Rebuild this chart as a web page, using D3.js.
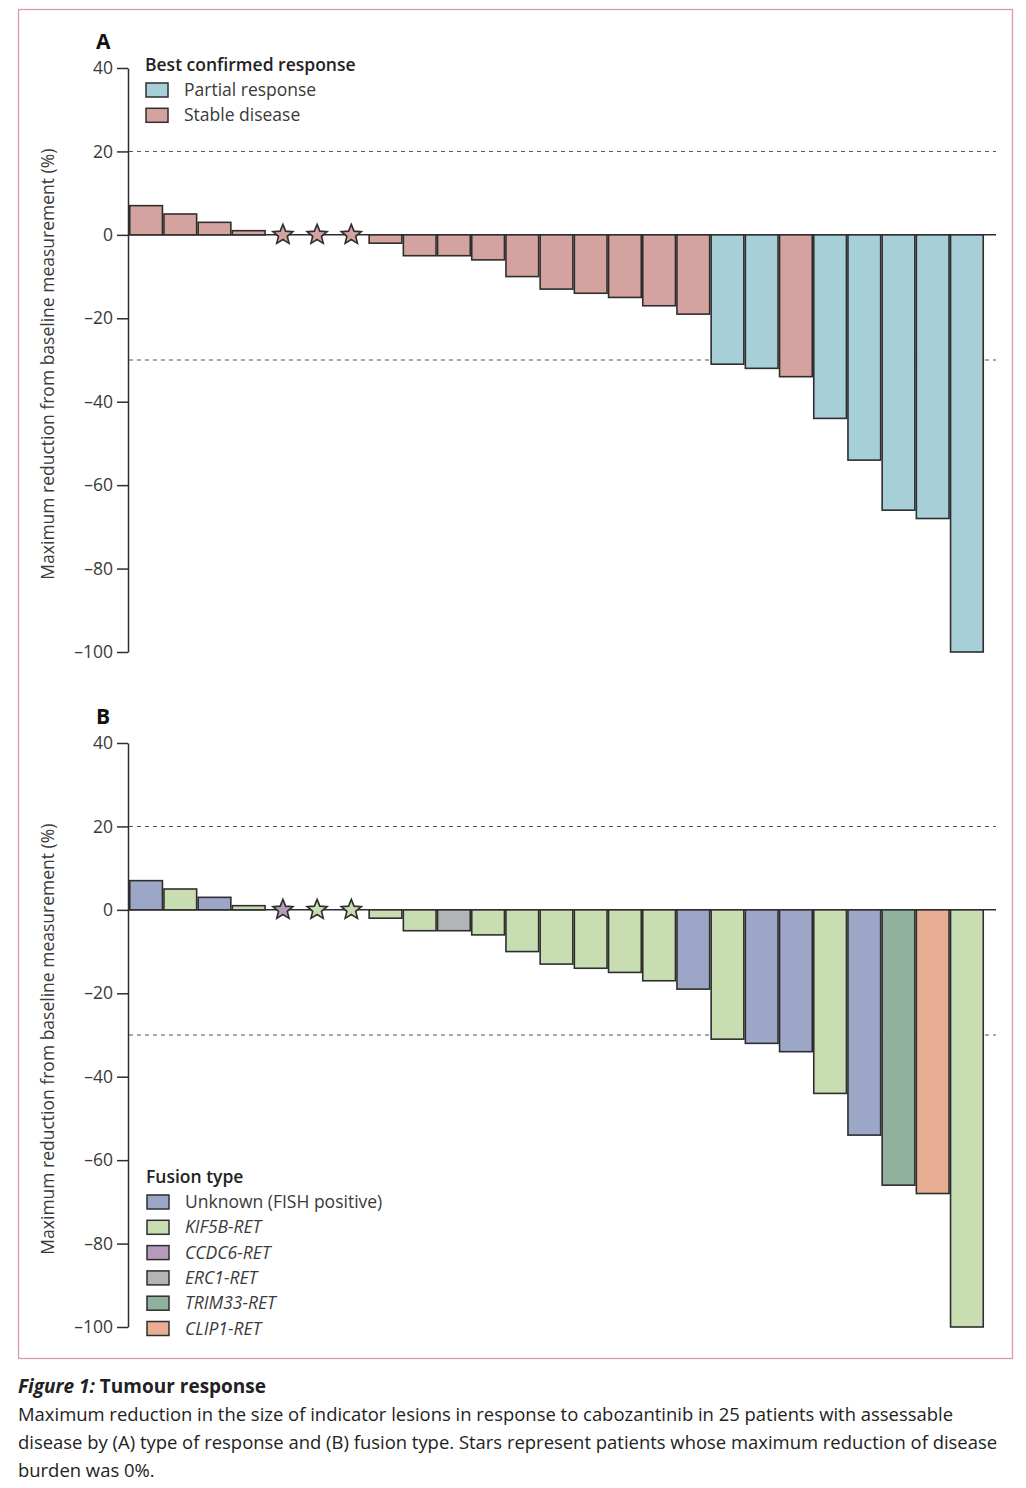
<!DOCTYPE html>
<html><head><meta charset="utf-8">
<script src="https://cdn.jsdelivr.net/npm/d3@7"></script>
<style>
body{margin:0;background:#fff;}
svg{display:block;font-family:"Open Sans",Lato,sans-serif;}
</style></head><body>
<svg id="c" width="1026" height="1488"></svg>
<script>
// ---- data ----
const patients = d3.range(1, 26);
const values = [7,5,3,1,0,0,0,-2,-5,-5,-6,-10,-13,-14,-15,-17,-19,-31,-32,-34,-44,-54,-66,-68,-100];
const isStar = [0,0,0,0,1,1,1,0,0,0,0,0,0,0,0,0,0,0,0,0,0,0,0,0,0];
const responseCats = ["Partial response","Stable disease"];
const response = ["SD","SD","SD","SD","SD","SD","SD","SD","SD","SD","SD","SD","SD","SD","SD","SD","SD","PR","PR","SD","PR","PR","PR","PR","PR"];
const fusionCats = ["Unknown (FISH positive)","KIF5B-RET","CCDC6-RET","ERC1-RET","TRIM33-RET","CLIP1-RET"];
const fusion = ["UNK","KIF5B","UNK","KIF5B","CCDC6","KIF5B","KIF5B","KIF5B","KIF5B","ERC1","KIF5B","KIF5B","KIF5B","KIF5B","KIF5B","KIF5B","UNK","KIF5B","UNK","UNK","KIF5B","UNK","TRIM33","CLIP1","KIF5B"];
const yTicks = [40,20,0,-20,-40,-60,-80,-100];
const refLines = [20,-30];

// ---- styles ----
const respColor = {PR:"#a7cfd7", SD:"#d4a39f"};
const fusColor = {UNK:"#9ca7c8", KIF5B:"#c9ddb2", CCDC6:"#b49cba", ERC1:"#b1b5b5", TRIM33:"#8fb19d", CLIP1:"#e8ae93"};
const respKeys = ["PR","SD"];
const fusKeys = ["UNK","KIF5B","CCDC6","ERC1","TRIM33","CLIP1"];
const ink = "#2e2e2e", txt = "#3a3a3a";

const svg = d3.select("#c");
svg.append("rect").attr("x",18.5).attr("y",9.5).attr("width",994).attr("height",1349)
  .attr("fill","none").attr("stroke","#d99aab").attr("stroke-width",1.3);

const x = d3.scaleBand().domain(patients).range([129,984]).padding(0);

function starPath(cx, cy, R, r){
  const pts=[];
  for(let i=0;i<10;i++){
    const a = -Math.PI/2 + i*Math.PI/5;
    const rr = i%2===0?R:r;
    pts.push([cx+rr*Math.cos(a), cy+rr*Math.sin(a)]);
  }
  return "M"+pts.map(p=>p.join(",")).join("L")+"Z";
}

function panel(top, label, colorOf){
  const y = d3.scaleLinear().domain([-100,40]).range([top+584,top]);
  const g = svg.append("g");
  g.append("text").attr("x",96).attr("y",top-19).attr("font-size",21).attr("font-weight",700)
    .attr("fill","#111").text(label);
  g.selectAll(".ref").data(refLines).join("line")
    .attr("x1",129).attr("x2",996).attr("y1",d=>y(d)).attr("y2",d=>y(d))
    .attr("stroke","#555").attr("stroke-width",1.1).attr("stroke-dasharray","4,4");
  g.append("line").attr("x1",128).attr("x2",996).attr("y1",y(0)).attr("y2",y(0))
    .attr("stroke",ink).attr("stroke-width",1.5);
  const bars = patients.map((p,i)=>({p, v:values[i], star:isStar[i], c:colorOf(i)}));
  g.selectAll(".bar").data(bars.filter(d=>!d.star)).join("rect")
    .attr("x",d=>x(d.p)+0.75).attr("width",x.bandwidth()-1.5)
    .attr("y",d=>Math.min(y(d.v),y(0))).attr("height",d=>Math.abs(y(d.v)-y(0)))
    .attr("fill",d=>d.c).attr("stroke",ink).attr("stroke-width",1.6);
  g.selectAll(".star").data(bars.filter(d=>d.star)).join("path")
    .attr("d",d=>starPath(x(d.p)+x.bandwidth()/2, y(d.v), 10.5, 4.6))
    .attr("fill",d=>d.c).attr("stroke",ink).attr("stroke-width",1.6).attr("stroke-linejoin","miter");
  const ax = g.append("g").attr("transform","translate(128,0)")
    .call(d3.axisLeft(y).tickValues(yTicks).tickSize(11).tickSizeOuter(0).tickPadding(4)
      .tickFormat(d=> d<0 ? "\u2013"+Math.abs(d) : d));
  ax.select(".domain").attr("stroke",ink).attr("stroke-width",1.5);
  ax.selectAll(".tick line").attr("stroke",ink).attr("stroke-width",1.5);
  ax.selectAll(".tick text").attr("font-size",17.5).attr("fill",txt).attr("font-family","Open Sans, sans-serif");
  g.append("text").attr("transform",`translate(54,${y(-31)}) rotate(-90)`)
    .attr("text-anchor","middle").attr("font-size",17.5).attr("fill",txt)
    .text("Maximum reduction from baseline measurement (%)");
  return {g,y};
}

const A = panel(68, "A", i=>respColor[response[i]]);
const B = panel(743, "B", i=>fusColor[fusion[i]]);

function legend(g, x0, yTitle, title, keys, labels, colors, italic){
  g.append("text").attr("x",x0).attr("y",yTitle).attr("font-size",17.5).attr("font-weight",600)
    .attr("fill","#222").text(title);
  const it = g.selectAll(".lg"+title.length).data(keys).join("g")
    .attr("transform",(d,i)=>`translate(${x0+1},${yTitle+12+i*25.3})`);
  it.append("rect").attr("width",22).attr("height",14).attr("fill",d=>colors[d])
    .attr("stroke",ink).attr("stroke-width",1.5);
  it.append("text").attr("x",38).attr("y",13).attr("font-size",17.5).attr("fill",txt)
    .attr("font-style",(d,i)=>italic(i)?"italic":"normal").text((d,i)=>labels[i]);
}
legend(A.g, 145, 71, "Best confirmed response", respKeys, responseCats, respColor, ()=>false);
legend(B.g, 146, 1183, "Fusion type", fusKeys, fusionCats, fusColor, i=>i>0);

// caption
const cap = svg.append("g").attr("fill","#222");
const t1 = cap.append("text").attr("x",18).attr("y",1393).attr("font-size",19);
t1.append("tspan").attr("font-style","italic").attr("font-weight",700).text("Figure 1: ");
t1.append("tspan").attr("font-weight",700).text("Tumour response");
const capLines = ["Maximum reduction in the size of indicator lesions in response to cabozantinib in 25 patients with assessable",
  "disease by (A) type of response and (B) fusion type. Stars represent patients whose maximum reduction of disease",
  "burden was 0%."];
const capNodes = capLines.map((l,i)=>cap.append("text").attr("x",18).attr("y",1421+i*28).attr("font-size",19).text(l));
// shrink font so the widest line fits within 980px
const wMax = d3.max(capNodes, n=>n.node().getComputedTextLength());
const fs = Math.min(19, 19*980/wMax);
capNodes.forEach(n=>n.attr("font-size",fs));
</script></body></html>
